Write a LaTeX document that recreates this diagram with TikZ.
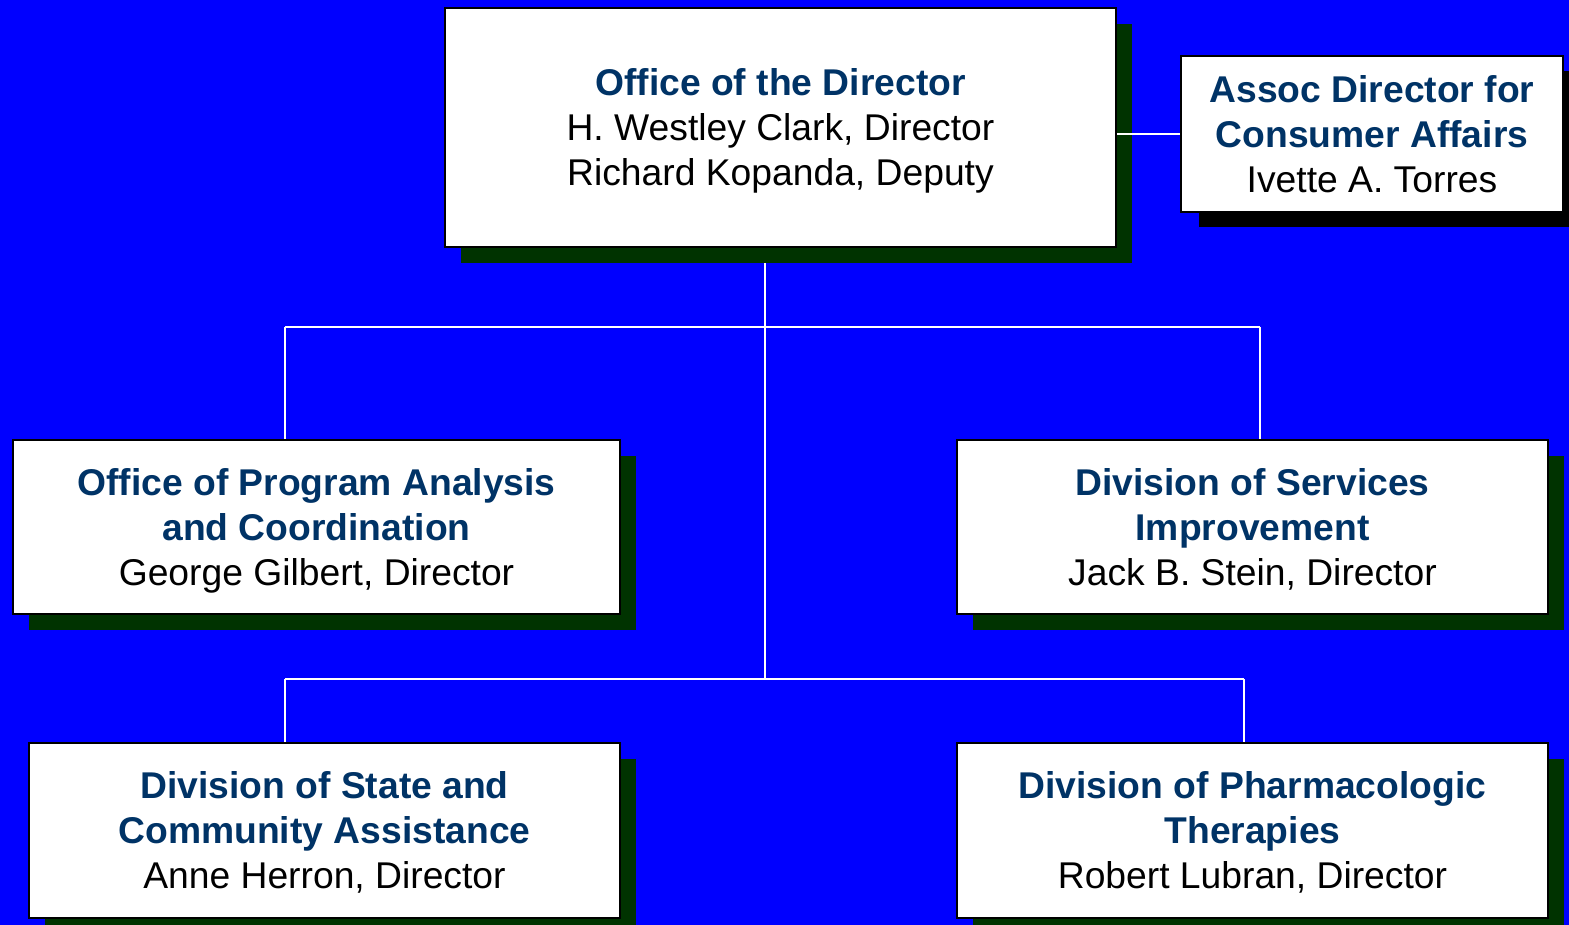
\documentclass[tikz,border=0pt]{standalone}
\usepackage{fontspec}
\setmainfont{Liberation Sans}
\usepackage{tikz}
\usetikzlibrary{shadows}

\definecolor{bgblue}{RGB}{0,0,255}
\definecolor{titleblue}{RGB}{0,51,102}
\definecolor{shadowgreen}{RGB}{0,51,0}

\pgfdeclarelayer{bg}
\pgfdeclarelayer{links}
\pgfsetlayers{bg,links,main}

\newcommand{\unittitle}[1]{{\bfseries\color{titleblue}#1}}

\begin{document}
\begin{tikzpicture}[x=1cm,y=-1cm]
      \tikzstyle{unit} = [draw=black, line width=0.6pt, fill=white, inner sep=0pt,
        align=center, text depth=0pt, font=\fontsize{10.6}{12.8}\selectfont]
      \tikzstyle{greenshadow} = [drop shadow={shadow xshift=0.16cm, shadow yshift=-0.16cm,
        fill=shadowgreen, opacity=1}]
      \tikzstyle{link} = [draw=white, line width=0.55pt]

      \begin{pgfonlayer}{bg}
        \fill[bgblue] (0,0) rectangle (15.69,9.25);
      \end{pgfonlayer}
      \useasboundingbox (0,0) rectangle (15.69,9.25);

      % top level
      \node[unit, greenshadow, minimum width=6.71cm, minimum height=2.39cm] (dir) at (7.805,1.275)
        {\unittitle{Office of the Director}\\H. Westley Clark, Director\\Richard Kopanda, Deputy};
      \node[unit, minimum width=3.82cm, minimum height=1.56cm,
        drop shadow={shadow xshift=0.18cm, shadow yshift=-0.15cm, fill=black, opacity=1}]
        (assoc) at (13.72,1.34)
        {\unittitle{Assoc Director for}\\\unittitle{Consumer Affairs}\\Ivette A. Torres};

      % offices and divisions
      \node[unit, greenshadow, minimum width=6.07cm, minimum height=1.74cm] (opac) at (3.165,5.27)
        {\unittitle{Office of Program Analysis}\\\unittitle{and Coordination}\\George Gilbert, Director};
      \node[unit, greenshadow, minimum width=5.91cm, minimum height=1.74cm] (dsi) at (12.525,5.27)
        {\unittitle{Division of Services}\\\unittitle{Improvement}\\Jack B. Stein, Director};
      \node[unit, greenshadow, minimum width=5.91cm, minimum height=1.75cm] (dsca) at (3.245,8.305)
        {\unittitle{Division of State and}\\\unittitle{Community Assistance}\\Anne Herron, Director};
      \node[unit, greenshadow, minimum width=5.91cm, minimum height=1.75cm] (dpt) at (12.525,8.305)
        {\unittitle{Division of Pharmacologic}\\\unittitle{Therapies}\\Robert Lubran, Director};

      % branch points of the tree
      \coordinate (spine) at (7.65,0);
      \coordinate (b1) at (2.85,3.27);
      \coordinate (b2) at (12.60,3.27);
      \coordinate (b3) at (2.85,6.79);
      \coordinate (b4) at (12.44,6.79);

      \begin{pgfonlayer}{links}
        \path[link] (dir.south -| spine) -- (b3 -| spine);
        \path[link] (b1) -- (b2);
        \path[link] (b3) -- (b4);
        \path[link] (b1) -- (b1 |- opac.north);
        \path[link] (b2) -- (b2 |- dsi.north);
        \path[link] (b3) -- (b3 |- dsca.north);
        \path[link] (b4) -- (b4 |- dpt.north);
      \end{pgfonlayer}
      \path[link] (assoc.west) -- (assoc.west -| dir.east);
\end{tikzpicture}
\end{document}
